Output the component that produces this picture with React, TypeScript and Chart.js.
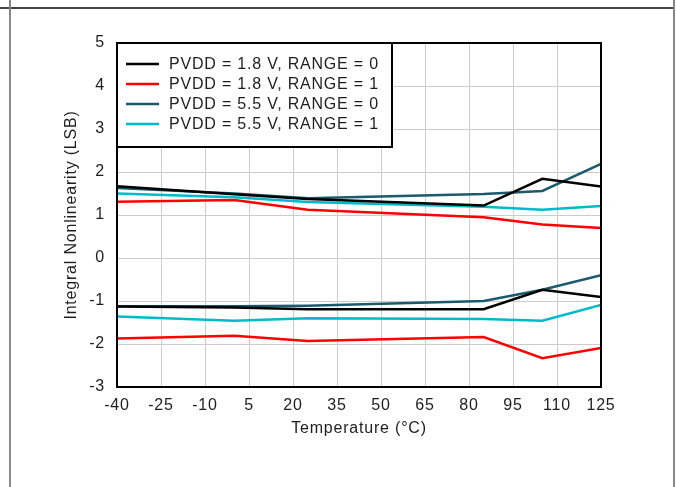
import React, { useEffect, useRef } from "react";
import { Chart, registerables } from "chart.js";

Chart.register(...registerables);

const temperatures = [-40, 0, 25, 85, 105, 125];
const seriesLabels = [
  "PVDD = 1.8 V, RANGE = 0",
  "PVDD = 1.8 V, RANGE = 1",
  "PVDD = 5.5 V, RANGE = 0",
  "PVDD = 5.5 V, RANGE = 1",
];
const seriesColors = ["#000000", "#ff0000", "#1a5a6c", "#00b9cb"];

const pvdd18Range0Upper = [1.67, 1.48, 1.37, 1.22, 1.84, 1.66];
const pvdd18Range0Lower = [-1.13, -1.15, -1.19, -1.19, -0.74, -0.91];
const pvdd18Range1Upper = [1.31, 1.35, 1.12, 0.95, 0.78, 0.7];
const pvdd18Range1Lower = [-1.87, -1.81, -1.93, -1.84, -2.33, -2.09];
const pvdd55Range0Upper = [1.63, 1.5, 1.39, 1.49, 1.56, 2.19];
const pvdd55Range0Lower = [-1.12, -1.12, -1.11, -1.0, -0.74, -0.4];
const pvdd55Range1Upper = [1.5, 1.41, 1.3, 1.19, 1.12, 1.21];
const pvdd55Range1Lower = [-1.36, -1.46, -1.4, -1.42, -1.46, -1.09];

const xMin = -40;
const xMax = 125;
const xStep = 15;
const yMin = -3;
const yMax = 5;
const yStep = 1;
const xTitle = "Temperature (°C)";
const yTitle = "Integral Nonlinearity (LSB)";

const FONT = "'Liberation Sans', Arial, sans-serif";
const TEXT_COLOR = "#1e1e1e";
const SPACING = "0.8px";

function toPoints(values: number[]) {
  return temperatures.map((t, i) => ({ x: t, y: values[i] }));
}

const frameAndLegend = {
  id: "frameAndLegend",
  beforeDraw(chart: any) {
    const ctx = chart.ctx;
    (ctx as any).letterSpacing = SPACING;
  },
  afterDraw(chart: any) {
    const ctx = chart.ctx;
    const { left, top, right, bottom } = chart.chartArea;
    ctx.save();
    ctx.strokeStyle = "#000";
    ctx.lineWidth = 2;
    ctx.strokeRect(left, top, right - left, bottom - top);

    const lw = 275;
    const lh = 104;
    ctx.fillStyle = "#fff";
    ctx.fillRect(left, top, lw, lh);
    ctx.strokeRect(left, top, lw, lh);
    ctx.font = `16px ${FONT}`;
    (ctx as any).letterSpacing = SPACING;
    ctx.textBaseline = "middle";
    ctx.textAlign = "left";
    seriesLabels.forEach((label, i) => {
      const y = top + 21 + i * 20;
      ctx.strokeStyle = seriesColors[i];
      ctx.lineWidth = 2.5;
      ctx.beginPath();
      ctx.moveTo(left + 9, y);
      ctx.lineTo(left + 42, y);
      ctx.stroke();
      ctx.fillStyle = TEXT_COLOR;
      ctx.fillText(label, left + 52, y + 1);
    });
    ctx.restore();
  },
};

export default function App() {
  const canvasRef = useRef<HTMLCanvasElement | null>(null);

  useEffect(() => {
    if (!canvasRef.current) return;
    const upper = [pvdd18Range0Upper, pvdd18Range1Upper, pvdd55Range0Upper, pvdd55Range1Upper];
    const lower = [pvdd18Range0Lower, pvdd18Range1Lower, pvdd55Range0Lower, pvdd55Range1Lower];
    const datasets: any[] = [];
    seriesLabels.forEach((label, i) => {
      datasets.push({
        label,
        data: toPoints(upper[i]),
        borderColor: seriesColors[i],
        backgroundColor: seriesColors[i],
        borderWidth: 2.5,
        pointRadius: 0,
        tension: 0,
        fill: false,
      });
      datasets.push({
        label: label + " (low)",
        data: toPoints(lower[i]),
        borderColor: seriesColors[i],
        backgroundColor: seriesColors[i],
        borderWidth: 2.5,
        pointRadius: 0,
        tension: 0,
        fill: false,
      });
    });

    const chart = new Chart(canvasRef.current, {
      type: "line",
      data: { datasets },
      options: {
        animation: false,
        responsive: false,
        devicePixelRatio: 1,
        layout: { padding: { top: 43, right: 75, left: 0, bottom: 0 } },
        plugins: {
          legend: { display: false },
          tooltip: { enabled: false },
        },
        scales: {
          x: {
            type: "linear",
            min: xMin,
            max: xMax,
            afterFit(scale: any) {
              scale.height = 100;
            },
            ticks: {
              stepSize: xStep,
              autoSkip: false,
              maxRotation: 0,
              padding: 9,
              color: TEXT_COLOR,
              font: { family: FONT, size: 16 },
            },
            grid: { color: "#cccccc", lineWidth: 1, drawTicks: false },
            border: { display: false },
            title: {
              display: true,
              text: xTitle,
              color: TEXT_COLOR,
              font: { family: FONT, size: 16 },
              padding: { top: 0, bottom: 49 },
            },
          },
          y: {
            type: "linear",
            min: yMin,
            max: yMax,
            afterFit(scale: any) {
              scale.width = 117;
            },
            ticks: {
              stepSize: yStep,
              padding: 12,
              color: TEXT_COLOR,
              font: { family: FONT, size: 16 },
            },
            grid: { color: "#cccccc", lineWidth: 1, drawTicks: false },
            border: { display: false },
            title: {
              display: true,
              text: yTitle,
              color: TEXT_COLOR,
              font: { family: FONT, size: 16 },
              padding: { top: 62, bottom: 0 },
            },
          },
        },
      },
      plugins: [frameAndLegend],
    });
    return () => chart.destroy();
  }, []);

  return (
    <div style={{ position: "absolute", left: 0, top: 0, width: 676, height: 487, background: "#fff", overflow: "hidden" }}>
      <canvas ref={canvasRef} width={676} height={487} style={{ position: "absolute", left: 0, top: 0, width: 676, height: 487 }} />
      <div style={{ position: "absolute", left: 0, top: 7, width: 675, height: 2, background: "#444" }} />
      <div style={{ position: "absolute", left: 9, top: 0, width: 2, height: 487, background: "#888" }} />
      <div style={{ position: "absolute", left: 673, top: 0, width: 2, height: 487, background: "#888" }} />
    </div>
  );
}
